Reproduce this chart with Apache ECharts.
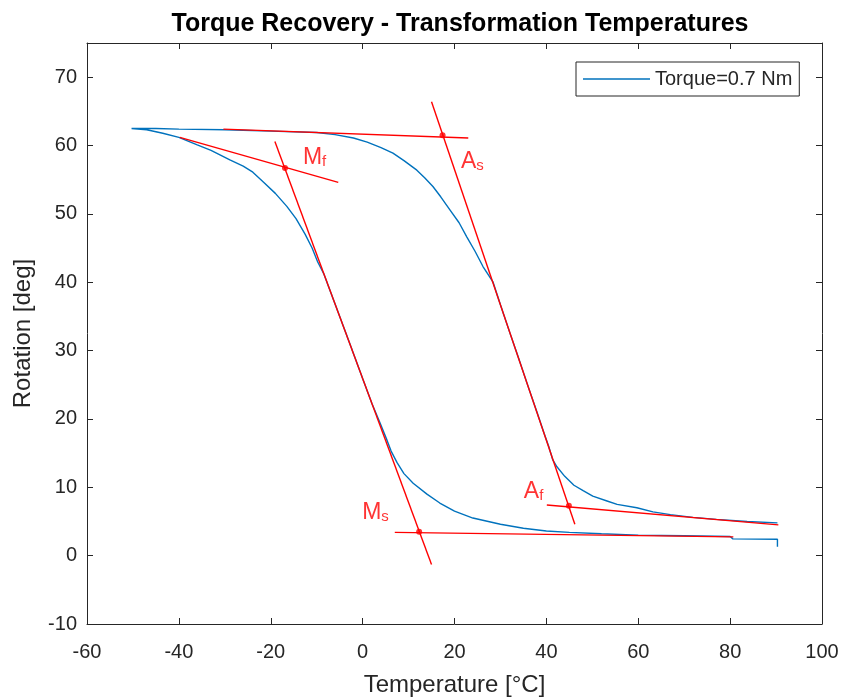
<!DOCTYPE html>
<html>
<head>
<meta charset="utf-8">
<script src="https://cdn.jsdelivr.net/npm/echarts@6/dist/echarts.min.js"></script>
<style>
  html, body { margin: 0; padding: 0; background: #fff; }
  #chart { width: 842px; height: 698px; }
</style>
</head>
<body>
<div id="chart"></div>
<script>
// Measured rotation vs temperature: one continuous loop, cooling branch then heating branch
const loopTemperature = [
  90.3, 90.3, 80.6, 80.0, 70, 60, 52, 45, 40, 35, 30, 24, 20, 16.8, 14, 11, 9, 7.5, 6.2, 5.3, 3.8,
  2, 0, -3, -6, -8.5, -9.8, -11, -12.5, -14.5, -16.5, -19, -21.5, -23.9, -26, -28.9, -33, -36, -40, -43.5, -47, -50.3,
  -45, -40, -30, -20, -10, -6, -2, 1, 4, 6.6, 9, 11.8, 13.5, 15.3, 17, 19, 21, 22.7, 24.5, 26.2,
  28.4, 30, 32, 34, 36, 38, 39.5, 40.5, 41.4, 42.3, 44, 46, 48, 50.1, 53.2, 55.4, 59.7, 63.2, 67, 71.9, 77, 83.7, 90.3
];
const loopRotation = [
  1.3, 2.4, 2.45, 2.8, 2.9, 3.0, 3.2, 3.4, 3.6, 4.0, 4.6, 5.5, 6.5, 7.7, 9.0, 10.6, 12.0, 13.6, 15.3, 16.9, 19.4,
  22.3, 25.9, 31.4, 36.8, 41.3, 43.0, 45.0, 47.0, 49.3, 51.1, 53.0, 54.6, 56.1, 57.0, 57.9, 59.3, 60.1, 61.2, 61.8, 62.3, 62.5,
  62.5, 62.4, 62.3, 62.1, 61.9, 61.6, 61.1, 60.5, 59.7, 58.9, 57.8, 56.4, 55.3, 54.0, 52.5, 50.6, 48.7, 46.6, 44.5, 42.3,
  40.0, 36.7, 32.7, 28.8, 24.8, 20.9, 17.9, 16.0, 14.0, 13.0, 11.6, 10.3, 9.5, 8.7, 8.0, 7.5, 7.0, 6.4, 6.0, 5.6, 5.3, 5.0, 4.8
];

// Tangent construction lines (two end points each: [T, rotation])
const tangentLines = [
  [[-30.3, 62.4], [23.0, 61.1]],   // austenite-start upper plateau
  [[-39.8, 61.2], [-5.3, 54.6]],   // martensite-finish plateau
  [[-19.1, 60.6], [15.0, -1.3]],   // cooling transformation slope
  [[15.0, 66.4], [46.2, 4.6]],     // heating transformation slope
  [[7.0, 3.4], [80.7, 2.75]],      // martensite-start lower plateau
  [[40.1, 7.4], [90.5, 4.5]]       // austenite-finish lower plateau
];

// Transformation temperatures (tangent intersections)
const pointNames = ['Mf', 'As', 'Ms', 'Af'];
const pointTemperature = [-16.9, 17.4, 12.3, 44.9];
const pointRotation = [56.7, 61.5, 3.5, 7.3];

// Label anchors for the transformation temperature names
const labelTemperature = [-13.0, 21.4, -0.1, 35.1];
const labelRotation = [58.2, 57.6, 6.25, 9.3];

const xTicks = { min: -60, max: 100, interval: 20 };
const yTicks = { min: -10, max: 75, interval: 10 };

const seriesName = 'Torque=0.7 Nm';
const titleText = 'Torque Recovery - Transformation Temperatures';
const xName = 'Temperature [°C]';
const yName = 'Rotation [deg]';

const axisColor = '#262626';
const blue = '#0072BD';
const red = '#FF0000';
const font = 'Arial, "Liberation Sans", Helvetica, sans-serif';

const loopData = loopTemperature.map((t, i) => [t, loopRotation[i]]);

const series = [{
  name: seriesName,
  type: 'line',
  data: loopData,
  symbol: 'none',
  lineStyle: { color: blue, width: 1.4 },
  itemStyle: { color: blue },
  animation: false,
  z: 2
}];

tangentLines.forEach((seg, i) => {
  series.push({
    name: 'tangent' + i,
    type: 'line',
    data: seg,
    symbol: 'none',
    lineStyle: { color: red, width: 1.4 },
    animation: false,
    z: 3
  });
});

series.push({
  name: 'points',
  type: 'scatter',
  data: pointTemperature.map((t, i) => [t, pointRotation[i]]),
  symbol: 'circle',
  symbolSize: 6,
  itemStyle: { color: red },
  animation: false,
  z: 4
});

series.push({
  name: 'labels',
  type: 'scatter',
  data: labelTemperature.map((t, i) => ({ value: [t, labelRotation[i]], name: pointNames[i] })),
  symbolSize: 0,
  animation: false,
  z: 5,
  label: {
    show: true,
    position: 'right',
    distance: 0,
    formatter: p => '{big|' + p.name[0] + '}{small|' + p.name.slice(1) + '}',
    rich: {
      big: { fontFamily: font, fontSize: 23, color: red, verticalAlign: 'bottom' },
      small: { fontFamily: font, fontSize: 15, color: red, verticalAlign: 'bottom' }
    }
  }
});

const chart = echarts.init(document.getElementById('chart'), null, { renderer: 'canvas' });

const baseAxis = {
  axisLine: { show: true, onZero: false, lineStyle: { color: axisColor, width: 1 } },
  axisTick: { show: true, inside: true, length: 6, lineStyle: { color: axisColor } },
  splitLine: { show: false }
};

chart.setOption({
  backgroundColor: '#ffffff',
  animation: false,
  title: {
    text: titleText,
    left: 455,
    textAlign: 'center',
    top: 7,
    textStyle: { fontFamily: font, fontSize: 25, fontWeight: 'bold', color: '#000' }
  },
  legend: {
    data: [{ name: seriesName, icon: 'rect' }],
    left: 576,
    top: 62,
    padding: [7, 7, 7, 7],
    itemWidth: 67,
    itemHeight: 1.5,
    itemGap: 5,
    borderColor: axisColor,
    borderWidth: 1,
    backgroundColor: '#fff',
    textStyle: { fontFamily: font, fontSize: 20, color: axisColor }
  },
  grid: { left: 87, right: 20, top: 43, bottom: 74, containLabel: false, outerBoundsMode: 'none' },
  xAxis: [
    Object.assign({}, baseAxis, {
      type: 'value', position: 'bottom',
      min: xTicks.min, max: xTicks.max, interval: xTicks.interval,
      name: xName, nameLocation: 'middle', nameGap: 49,
      nameTextStyle: { fontFamily: font, fontSize: 24, color: axisColor },
      axisLabel: { fontFamily: font, fontSize: 20, color: axisColor, margin: 18 }
    }),
    Object.assign({}, baseAxis, {
      type: 'value', position: 'top',
      min: xTicks.min, max: xTicks.max, interval: xTicks.interval,
      axisLabel: { show: false }
    })
  ],
  yAxis: [
    Object.assign({}, baseAxis, {
      type: 'value', position: 'left',
      min: yTicks.min, max: yTicks.max, interval: yTicks.interval,
      name: yName, nameLocation: 'middle', nameGap: 52,
      nameTextStyle: { fontFamily: font, fontSize: 24, color: axisColor },
      axisLabel: { fontFamily: font, fontSize: 20, color: axisColor, margin: 10, showMaxLabel: false, padding: [12, 0, 0, 0] }
    }),
    Object.assign({}, baseAxis, {
      type: 'value', position: 'right',
      min: yTicks.min, max: yTicks.max, interval: yTicks.interval,
      axisLabel: { show: false }
    })
  ],
  series: series
});
</script>
</body>
</html>
